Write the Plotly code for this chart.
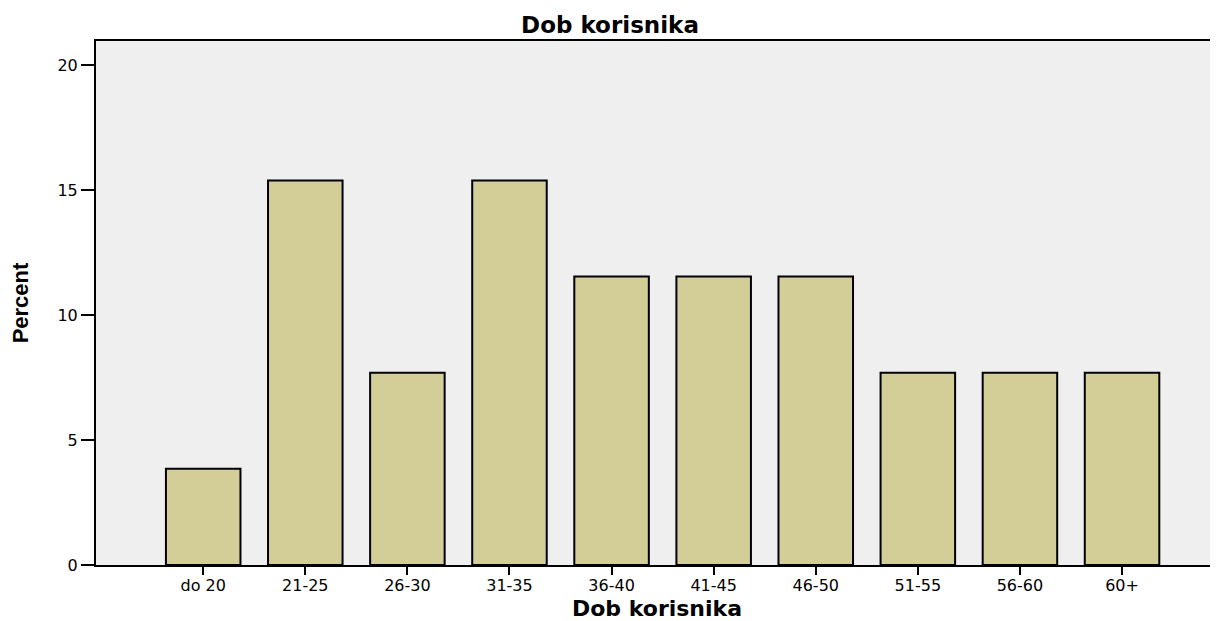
import plotly.graph_objects as go

# age groups and share of respondents (%)
age_groups = ["do 20", "21-25", "26-30", "31-35", "36-40", "41-45", "46-50", "51-55", "56-60", "60+"]
percent = [3.85, 15.38, 7.69, 15.38, 11.54, 11.54, 11.54, 7.69, 7.69, 7.69]
y_ticks = [0, 5, 10, 15, 20]

# the page body has an 8px margin, so the figure is shrunk by that much
W, H = 1210, 613

fig = go.Figure(go.Bar(
    x=age_groups,
    y=percent,
    width=0.73,
    marker=dict(color="#D3CE98", line=dict(color="black", width=2)),
))

fig.update_layout(
    width=W,
    height=H,
    paper_bgcolor="white",
    plot_bgcolor="#EFEFEF",
    margin=dict(l=88, r=0, t=33, b=56),
    showlegend=False,
    title=dict(
        text="<b>Dob korisnika</b>",
        x=(610 - 8) / W, xref="container", xanchor="center",
        y=1 - 17 / H, yref="container", yanchor="middle",
        font=dict(family="DejaVu Sans", size=23, color="black"),
    ),
    font=dict(family="DejaVu Sans", color="black"),
)

fig.update_xaxes(
    range=[-1.05, 9.94],
    showgrid=False,
    showline=True, linecolor="black", linewidth=2, mirror=True,
    ticks="outside", ticklen=8, tickwidth=2, tickcolor="black",
    ticklabelstandoff=-3,
    tickfont=dict(family="DejaVu Sans", size=16, color="black"),
    title=dict(text="<b>Dob korisnika</b>", standoff=20,
               font=dict(family="DejaVu Sans", size=22, color="black")),
    automargin=False,
)

fig.update_yaxes(
    range=[0, 20.96],
    tickvals=y_ticks,
    showgrid=False, zeroline=False,
    showline=True, linecolor="black", linewidth=2,
    ticks="outside", ticklen=13, tickwidth=2, tickcolor="black",
    tickfont=dict(family="DejaVu Sans", size=16, color="black"),
    title=dict(text="<b>Percent</b>", standoff=32,
               font=dict(family="Liberation Sans", size=22, color="black")),
    automargin=False,
)

fig.write_html("out.html")
